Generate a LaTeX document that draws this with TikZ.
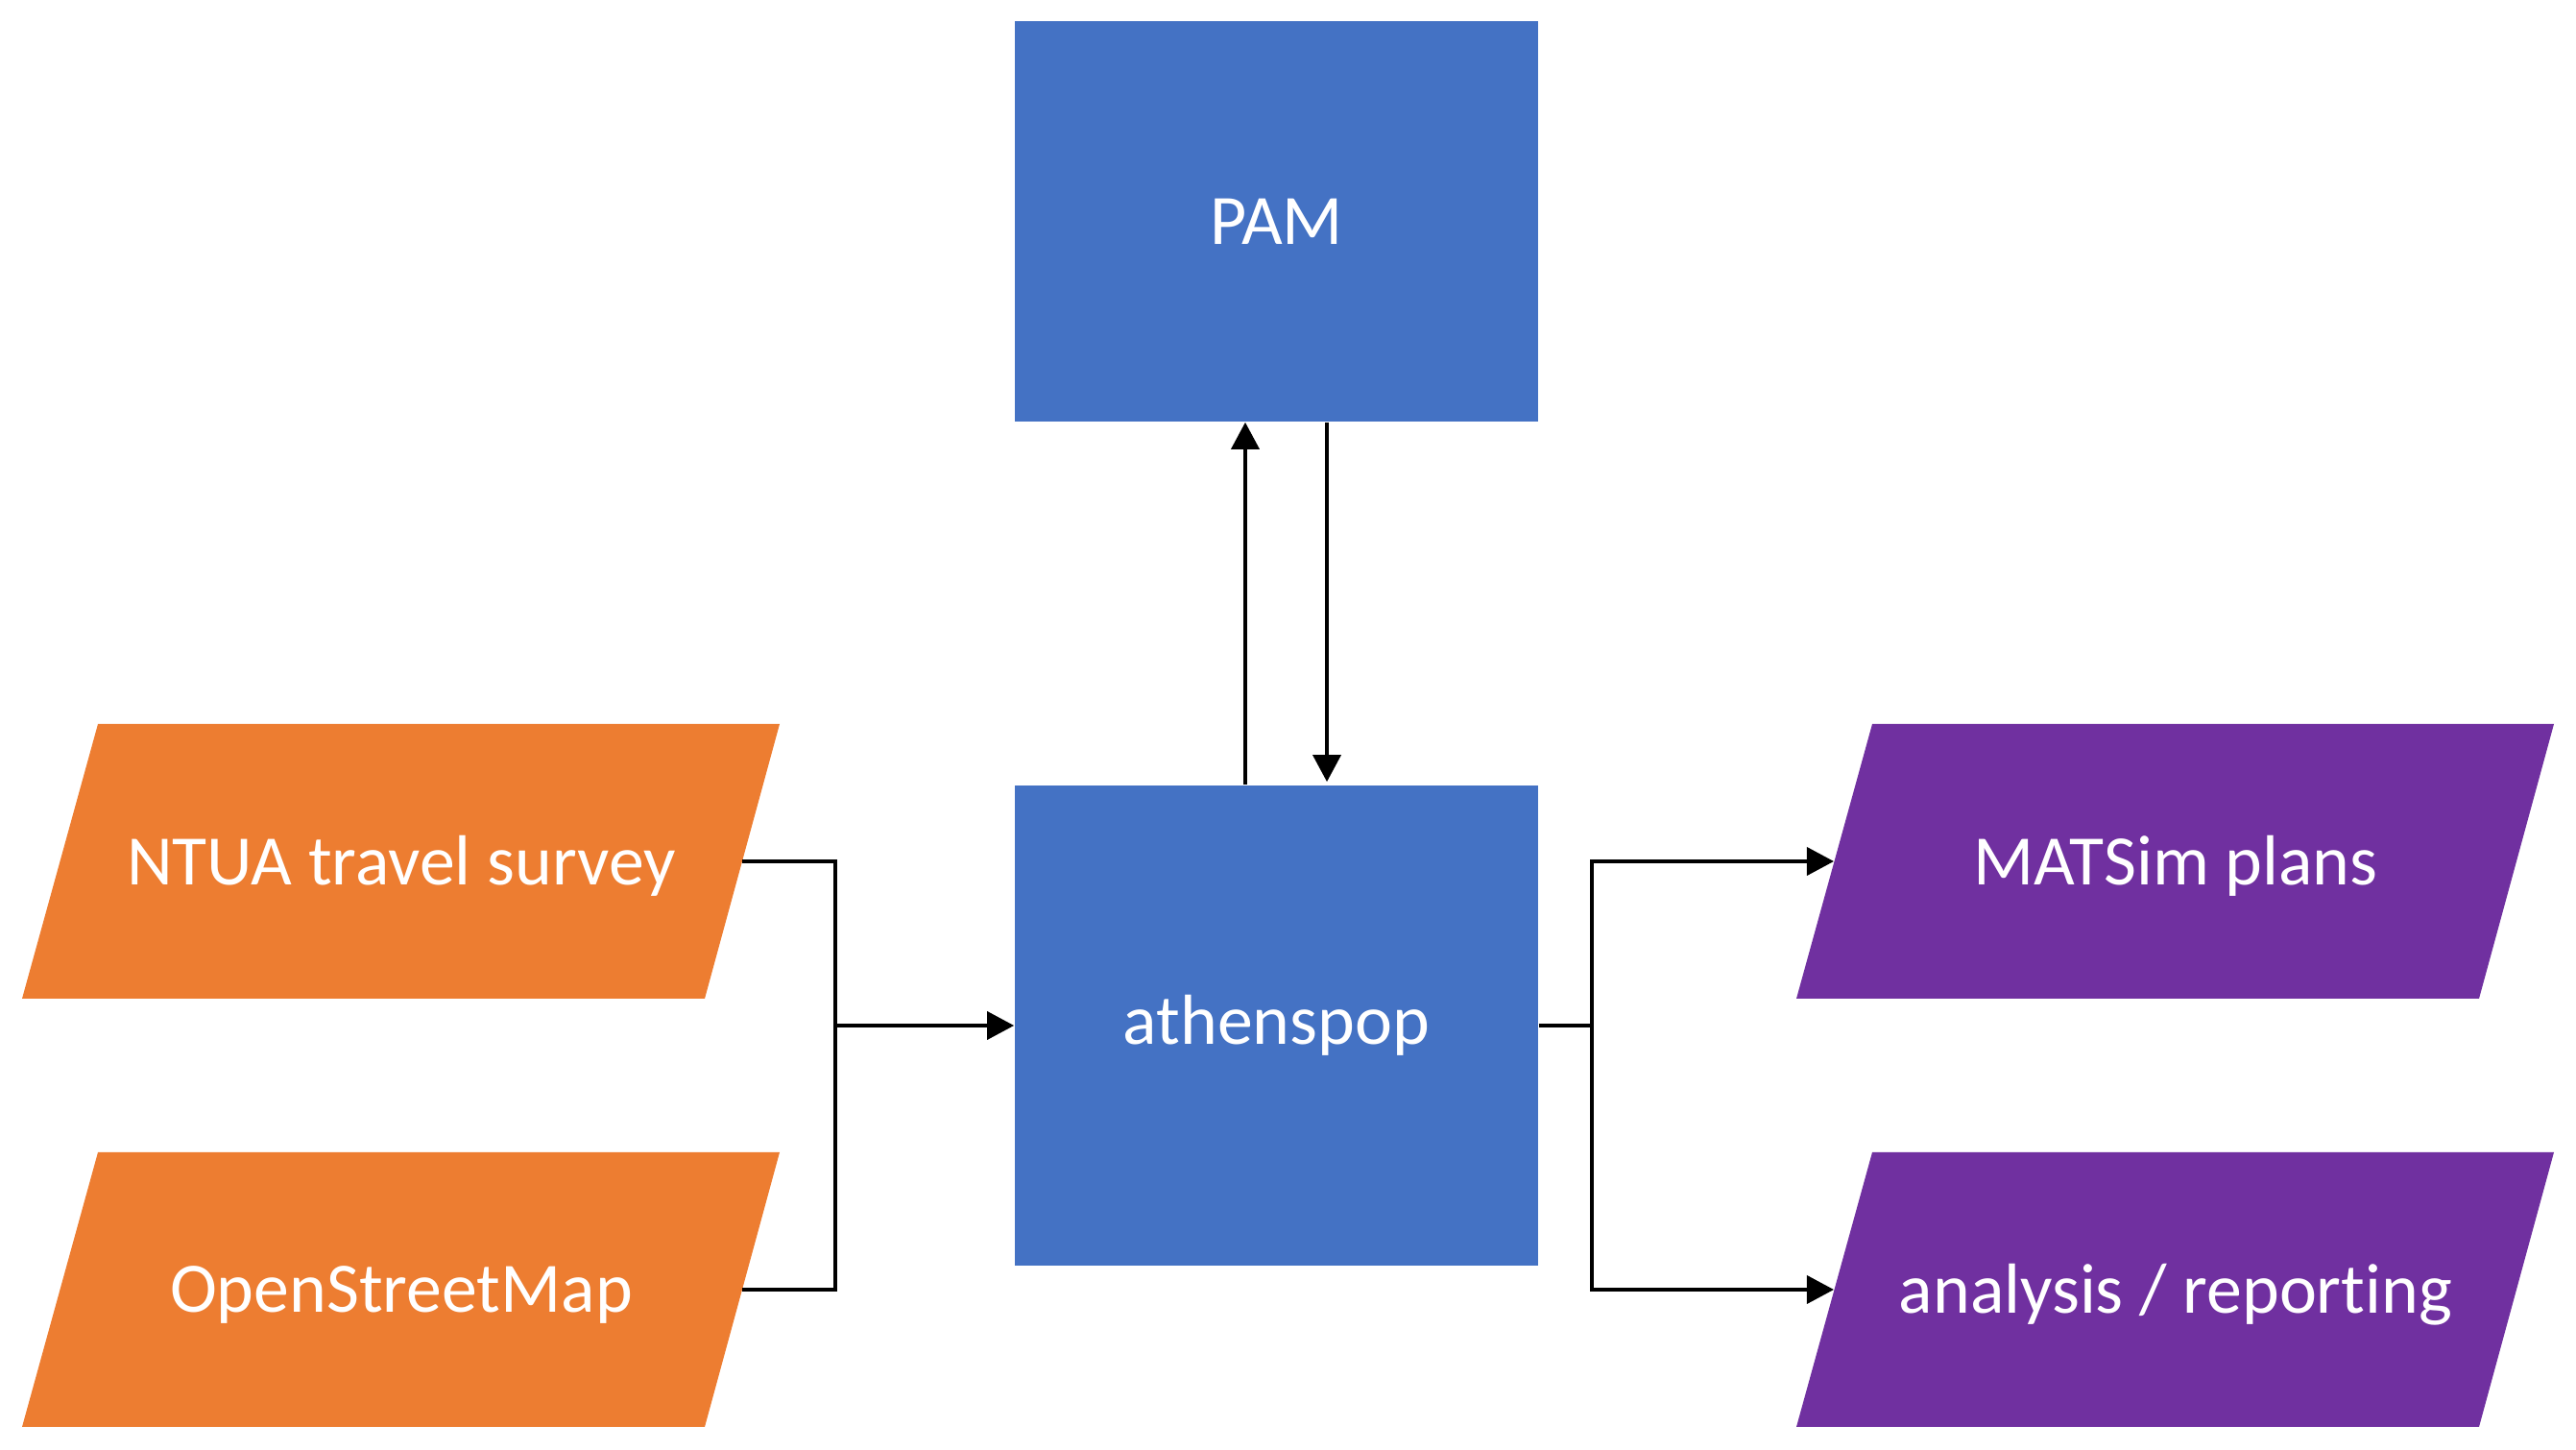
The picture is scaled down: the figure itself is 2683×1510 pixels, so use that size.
\documentclass[tikz,border=0pt]{standalone}
\usepackage{fontspec}
\setmainfont{Carlito}[RawFeature=-liga]
\usetikzlibrary{arrows.meta,calc}
\definecolor{cblue}{HTML}{4472C4}
\definecolor{corange}{HTML}{ED7D31}
\definecolor{cpurple}{HTML}{7030A0}
\begin{document}
\begin{tikzpicture}[x=0.01cm,y=-0.01cm,
  lbl/.style={text=white,font=\fontsize{21}{25}\selectfont},
  boxnode/.style={fill=cblue,inner sep=0pt,lbl},
  conn/.style={line width=1.05pt,black},
  arr/.style={conn,-{Triangle[width=0.29cm,length=0.28cm]}}]
\useasboundingbox (0,0) rectangle (2683,1510);
% blue boxes
\node[boxnode,minimum width=5.45cm,minimum height=4.17cm] (pam) at (1329.5,230.5) {PAM};
\node[boxnode,minimum width=5.45cm,minimum height=5.00cm] (ath) at (1329.5,1068) {athenspop};
% parallelograms
\fill[corange] (102,754) -- (812,754) -- (734,1040) -- (23,1040) -- cycle;
\node[lbl] (ntua) at (418,902) {NTUA travel survey};
\coordinate (ntuae) at (773,897);
\fill[corange] (102,1200) -- (812,1200) -- (734,1486) -- (23,1486) -- cycle;
\node[lbl] (osm) at (418,1348) {OpenStreetMap};
\coordinate (osme) at (773,1343);
\fill[cpurple] (1950,754) -- (2660,754) -- (2582,1040) -- (1871,1040) -- cycle;
\node[lbl] (mat) at (2266,902) {MATSim plans};
\coordinate (matw) at (1910,897);
\fill[cpurple] (1950,1200) -- (2660,1200) -- (2582,1486) -- (1871,1486) -- cycle;
\node[lbl] (ana) at (2266,1348) {analysis / reporting};
\coordinate (anaw) at (1910,1343);
% junctions
\coordinate (jl) at (870,1068);
\coordinate (jr) at (1658,1068);
% connectors
\draw[conn] (ntuae) -| (jl) |- (osme);
\draw[arr] (jl) -- (ath.west);
\draw[conn] (ath.east) -- (jr);
\draw[arr] (jr) |- (matw);
\draw[arr] (jr) |- (anaw);
\draw[arr] ([xshift=-0.325cm]ath.north) -- ([xshift=-0.325cm]pam.south);
\draw[arr] ([xshift=0.525cm]pam.south) -- ([xshift=0.525cm,yshift=0.03cm]ath.north);
\end{tikzpicture}
\end{document}
